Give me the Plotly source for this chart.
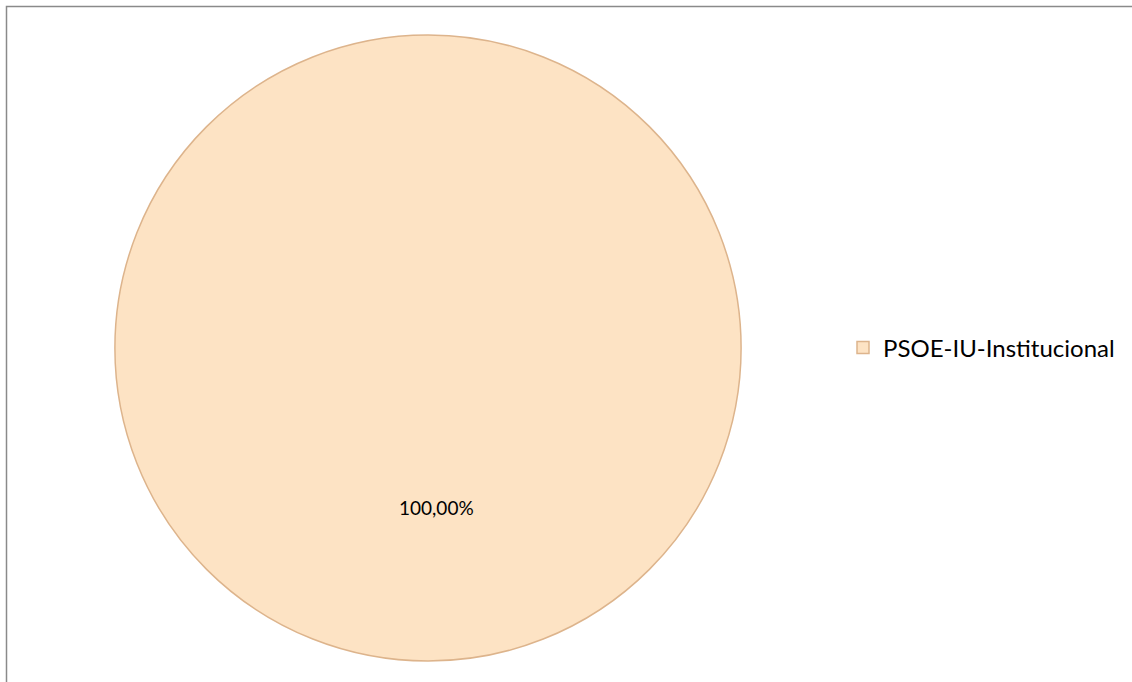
import plotly.graph_objects as go

labels = ["PSOE-IU-Institucional"]
values = [100.0]
label_text = ["100,00%"]

W, H = 1132, 682
cx, cy, r = 428, 348, 313

fig = go.Figure()
fig.add_trace(go.Pie(
    labels=labels, values=values,
    textinfo="none", sort=False,
    marker=dict(colors=["#FDE3C4"], line=dict(color="#DDB48C", width=1.5)),
    domain=dict(x=[(cx - r) / W, (cx + r) / W], y=[(H - cy - r) / H, (H - cy + r) / H]),
    showlegend=True, hoverinfo="label+percent",
))

fig.add_annotation(x=436 / W, y=(H - 507) / H, xref="paper", yref="paper",
                   xanchor="center", yanchor="middle",
                   text=label_text[0], showarrow=False,
                   font=dict(size=19, color="#000000", family="Lato, Open Sans, sans-serif"))

fig.add_shape(type="rect", xref="paper", yref="paper",
              x0=6.5 / W, x1=1.01, y0=-0.01, y1=(H - 6.5) / H,
              line=dict(color="#8A8A8A", width=1.5), fillcolor="rgba(0,0,0,0)", layer="below")

fig.update_layout(
    width=W, height=H,
    margin=dict(l=0, r=0, t=0, b=0),
    paper_bgcolor="white", plot_bgcolor="white",
    font=dict(family="Lato, Open Sans, sans-serif", size=24, color="#000000"),
    legend=dict(x=843 / W, y=(H - 348) / H, xanchor="left", yanchor="middle",
                font=dict(size=24), bgcolor="rgba(0,0,0,0)", itemwidth=30),
)

fig.write_html("out.html", config={"displayModeBar": False},
               post_script="document.body.style.margin='0';document.body.style.overflow='hidden';")
